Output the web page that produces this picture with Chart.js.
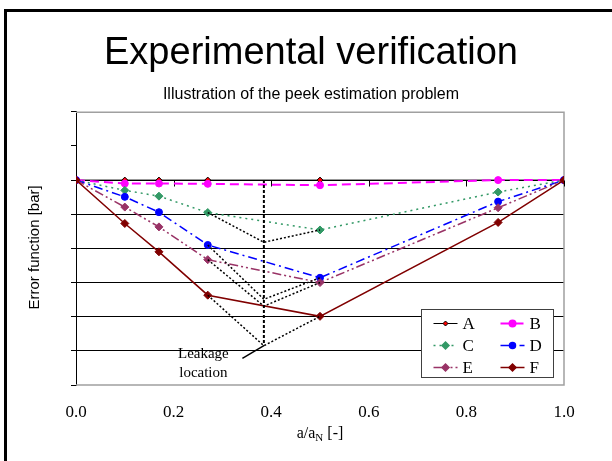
<!DOCTYPE html>
<html>
<head>
<meta charset="utf-8">
<script src="https://cdn.jsdelivr.net/npm/chart.js@4.4.1/dist/chart.umd.min.js"></script>
<style>
  html, body { margin: 0; padding: 0; background: #fff; overflow: hidden; }
  #wrap { position: relative; width: 612px; height: 461px; }
  #moldura { position: absolute; left: 4px; top: 9px; width: 700px; height: 600px;
             border-left: 3px solid #000; border-top: 3px solid #000; pointer-events: none; }
</style>
</head>
<body>
<div id="wrap">
  <canvas id="grafico" width="612" height="461"></canvas>
  <div id="moldura"></div>
</div>
<script>
// Posições no eixo x (a/aN) e valores de cada série
const posicoes = [0, 0.1, 0.17, 0.27, 0.5, 0.865, 1.0];
const serieA = [0, 0, 0, 0, 0, 0, 0];
const serieB = [0, -0.1, -0.1, -0.11, -0.15, 0, 0];
const serieC = [0, -0.3, -0.47, -0.95, -1.46, -0.35, 0];
const serieD = [0, -0.49, -0.94, -1.9, -2.86, -0.63, 0];
const serieE = [0, -0.79, -1.37, -2.33, -3.0, -0.81, 0];
const serieF = [0, -1.27, -2.1, -3.37, -3.99, -1.24, 0];
const nomes = ['A', 'B', 'C', 'D', 'E', 'F'];
const ticksX = [0, 0.2, 0.4, 0.6, 0.8, 1.0];

// Linhas auxiliares da estimativa do pico (vértices em x = vazamentoX)
const vazamentoX = 0.385;
const verticesC_F = [-1.82, -3.49, -3.69, -4.85];
const ponteiroInicio = [0.341, -5.22];
const textoLeakage = [0.261, -5.1];
const textoLocation = [0.261, -5.66];

function pontos(ys) {
    return posicoes.map((x, i) => ({ x: x, y: ys[i] }));
}

// Estilos das séries
const estilos = [
    { cor: '#000000', larg: 1, dash: [], ponto: 'rectRot', raio: 3, fundo: '#ff0000' },
    { cor: '#ff00ff', larg: 2, dash: [9, 5], ponto: 'circle', raio: 3.5, fundo: '#ff00ff' },
    { cor: '#339966', larg: 1.5, dash: [2, 4], ponto: 'rectRot', raio: 4, fundo: '#339966' },
    { cor: '#0000ff', larg: 1.5, dash: [9, 4, 2, 4], ponto: 'circle', raio: 3.5, fundo: '#0000ff' },
    { cor: '#993366', larg: 1.5, dash: [9, 3, 2, 3, 2, 3], ponto: 'rectRot', raio: 4, fundo: '#993366' },
    { cor: '#800000', larg: 1.5, dash: [], ponto: 'rectRot', raio: 4, fundo: '#800000' }
];
const series = [serieA, serieB, serieC, serieD, serieE, serieF];

const datasets = series.map((ys, i) => ({
    label: nomes[i],
    data: pontos(ys),
    borderColor: estilos[i].cor,
    borderWidth: estilos[i].larg,
    borderDash: estilos[i].dash,
    pointStyle: estilos[i].ponto,
    pointRadius: estilos[i].raio,
    pointBackgroundColor: estilos[i].fundo,
    pointBorderColor: i === 0 ? '#000' : estilos[i].cor,
    pointBorderWidth: 1,
    tension: 0,
    fill: false,
    order: 6 - i + 1
}));

// Vs pontilhados: do ponto em 0.27 ao vértice e de volta ao ponto em 0.5
[serieC, serieD, serieE, serieF].forEach((ys, k) => {
    datasets.push({
        label: '',
        anotacao: true,
        data: [{ x: posicoes[3], y: ys[3] }, { x: vazamentoX, y: verticesC_F[k] }, { x: posicoes[4], y: ys[4] }],
        borderColor: '#000', borderWidth: 1.5, borderDash: [2, 2], pointRadius: 0, tension: 0, fill: false, order: 0
    });
});
// Linha vertical da localização do vazamento
datasets.push({
    label: '', anotacao: true,
    data: [{ x: vazamentoX, y: 0 }, { x: vazamentoX, y: verticesC_F[3] }],
    borderColor: '#000', borderWidth: 2, borderDash: [3, 2], pointRadius: 0, fill: false, order: 0
});
// Ponteiro do texto
datasets.push({
    label: '', anotacao: true,
    data: [{ x: ponteiroInicio[0], y: ponteiroInicio[1] }, { x: vazamentoX, y: verticesC_F[3] }],
    borderColor: '#000', borderWidth: 1.5, pointRadius: 0, fill: false, order: 0
});

const decoracao = {
    id: 'decoracao',
    beforeDatasetsDraw(chart) {
        const ctx = chart.ctx;
        const a = chart.chartArea;
        const sx = chart.scales.x, sy = chart.scales.y;
        ctx.save();
        // Borda cinza da área do gráfico
        ctx.strokeStyle = '#a0a0a0';
        ctx.lineWidth = 1.5;
        ctx.beginPath();
        ctx.moveTo(a.left, a.top + 0.5);
        ctx.lineTo(a.right, a.top + 0.5);
        ctx.lineTo(a.right, a.bottom);
        ctx.lineTo(a.left, a.bottom);
        ctx.stroke();
        // Eixo x cruzando em y = 0 com marcas
        const y0 = Math.round(sy.getPixelForValue(0)) + 0.5;
        ctx.strokeStyle = '#000';
        ctx.lineWidth = 1;
        ctx.beginPath();
        ctx.moveTo(a.left, y0);
        ctx.lineTo(a.right, y0);
        ticksX.forEach(v => {
            const px = Math.round(sx.getPixelForValue(v)) + 0.5;
            ctx.moveTo(px, y0);
            ctx.lineTo(px, y0 + 6);
        });
        ctx.stroke();
        ctx.restore();
    },
    afterDatasetsDraw(chart) {
        const ctx = chart.ctx;
        const a = chart.chartArea;
        const sx = chart.scales.x, sy = chart.scales.y;
        ctx.save();
        ctx.fillStyle = '#000';
        // Texto "Leakage location"
        ctx.font = '15px "Liberation Serif"';
        ctx.textAlign = 'center';
        ctx.textBaseline = 'middle';
        ctx.fillText('Leakage', sx.getPixelForValue(textoLeakage[0]), sy.getPixelForValue(textoLeakage[1]));
        ctx.fillText('location', sx.getPixelForValue(textoLocation[0]), sy.getPixelForValue(textoLocation[1]));

        // Título do eixo x com subscrito
        const cx = (a.left + a.right) / 2;
        const base = 438;
        ctx.textBaseline = 'alphabetic';
        ctx.textAlign = 'left';
        ctx.font = '16px "Liberation Serif"';
        const t1 = 'a/a', t3 = ' [-]';
        const w1 = ctx.measureText(t1).width;
        const w3 = ctx.measureText(t3).width;
        ctx.font = '11px "Liberation Serif"';
        const w2 = ctx.measureText('N').width;
        let x0 = cx - (w1 + w2 + w3) / 2;
        ctx.font = '16px "Liberation Serif"';
        ctx.fillText(t1, x0, base);
        ctx.font = '11px "Liberation Serif"';
        ctx.fillText('N', x0 + w1, base + 3);
        ctx.font = '16px "Liberation Serif"';
        ctx.fillText(t3, x0 + w1 + w2, base);

        // Título do eixo y
        ctx.save();
        ctx.translate(35, (a.top + a.bottom) / 2 - 1);
        ctx.rotate(-Math.PI / 2);
        ctx.textAlign = 'center';
        ctx.textBaseline = 'middle';
        ctx.font = '15px "Liberation Sans"';
        ctx.fillText('Error function [bar]', 0, 0);
        ctx.restore();

        // Legenda em duas colunas
        const bw = 132, bh = 68;
        const bx = Math.round(a.right - 11 - bw) + 0.5;
        const by = Math.round(a.bottom - 8 - bh) + 0.5;
        ctx.fillStyle = '#fff';
        ctx.fillRect(bx, by, bw, bh);
        ctx.strokeStyle = '#404040';
        ctx.lineWidth = 1;
        ctx.strokeRect(bx, by, bw, bh);
        chart.data.datasets.forEach((ds, i) => {
            if (ds.anotacao) return;
            const col = i % 2, row = Math.floor(i / 2);
            const lx = bx + 12 + col * 67;
            const ly = by + 14 + row * 22;
            ctx.strokeStyle = ds.borderColor;
            ctx.lineWidth = ds.borderWidth;
            ctx.setLineDash(ds.borderDash);
            ctx.beginPath();
            ctx.moveTo(lx, ly);
            ctx.lineTo(lx + 24, ly);
            ctx.stroke();
            ctx.setLineDash([]);
            ctx.fillStyle = ds.pointBackgroundColor;
            ctx.strokeStyle = ds.pointBorderColor;
            Chart.helpers.drawPoint(ctx, { pointStyle: ds.pointStyle, radius: ds.pointRadius - 0.5, borderWidth: 1, rotation: 0 }, lx + 12, ly);
            ctx.fillStyle = '#000';
            ctx.font = '17px "Liberation Serif"';
            ctx.textAlign = 'left';
            ctx.textBaseline = 'middle';
            ctx.fillText(ds.label, lx + 29, ly + 1);
        });
        ctx.restore();
    }
};

new Chart(document.getElementById('grafico').getContext('2d'), {
    type: 'line',
    data: { datasets: datasets },
    options: {
        responsive: false,
        animation: false,
        devicePixelRatio: 1,
        layout: { padding: { left: 58, right: 48, top: 0, bottom: 0 } },
        plugins: {
            legend: { display: false },
            tooltip: { enabled: false },
            title: {
                display: true,
                text: 'Experimental verification',
                color: '#000',
                font: { family: 'Liberation Sans', size: 38, weight: 'normal' },
                padding: { top: 31, bottom: 0 }
            },
            subtitle: {
                display: true,
                text: 'Illustration of the peek estimation problem',
                color: '#000',
                font: { family: 'Liberation Sans', size: 16, weight: 'normal' },
                padding: { top: 8, bottom: 8 }
            }
        },
        scales: {
            x: {
                type: 'linear',
                min: 0,
                max: 1,
                afterFit: s => { s.height = 76; },
                afterBuildTicks: s => { s.ticks = ticksX.map(v => ({ value: v })); },
                ticks: {
                    color: '#000',
                    font: { family: 'Liberation Serif', size: 17 },
                    padding: 17,
                    maxRotation: 0,
                    autoSkip: false,
                    callback: v => Number(v).toFixed(1)
                },
                grid: { display: false, drawTicks: false },
                border: { display: false }
            },
            y: {
                min: -6,
                max: 2,
                afterFit: s => { s.width = 18; },
                ticks: { display: false, stepSize: 1 },
                grid: {
                    color: c => (c.tick && c.tick.value <= 0 && c.tick.value >= -5) ? '#000' : 'rgba(0,0,0,0)',
                    tickColor: '#000',
                    tickLength: 5,
                    lineWidth: 1
                },
                border: { color: '#000', width: 1 }
            }
        }
    },
    plugins: [decoracao]
});
</script>
</body>
</html>
